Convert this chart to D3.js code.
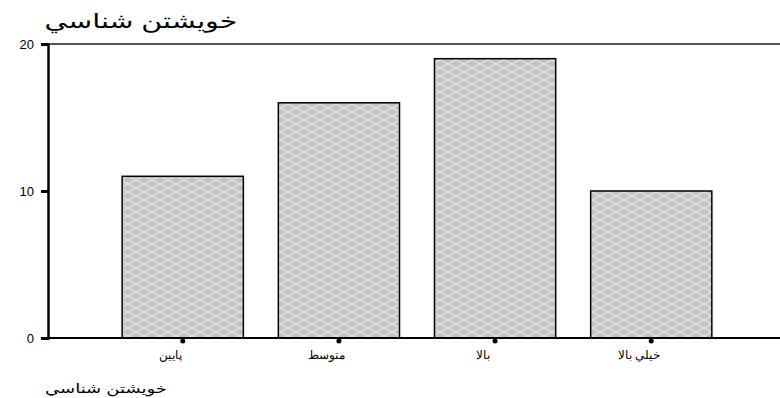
<!DOCTYPE html>
<html>
<head>
<meta charset="utf-8">
<script src="https://cdn.jsdelivr.net/npm/d3@7"></script>
<style>
  body { margin: 0; background: #fff; }
  svg { display: block; font-family: "Liberation Sans", Arial, "DejaVu Sans", sans-serif; }
</style>
</head>
<body>
<div id="chart"></div>
<script>
// data
const categories = ["پايين", "متوسط", "بالا", "خيلي بالا"];
const counts = [11, 16, 19, 10];
const yTicks = [0, 10, 20];
const titleText = "خويشتن شناسي";
const xTitleText = "خويشتن شناسي";

const width = 780;
const height = 398;
const margin = { top: 44, right: 0, bottom: 60, left: 48 };

const svg = d3.select("#chart")
    .append("svg")
    .attr("width", width)
    .attr("height", height);

// crosshatch fill used for the bars
const defs = svg.append("defs");
const pat = defs.append("pattern")
    .attr("id", "hatch")
    .attr("patternUnits", "userSpaceOnUse")
    .attr("width", 16)
    .attr("height", 8);
pat.append("rect").attr("width", 16).attr("height", 8).attr("fill", "#c4c4c4");
pat.append("path")
    .attr("d", "M0,0 L16,8 M0,8 L16,0")
    .attr("stroke", "#ececec")
    .attr("stroke-width", 1.1)
    .attr("fill", "none");

const x = d3.scaleBand()
    .domain(categories)
    .range([margin.left, 786])
    .paddingInner(0.224)
    .paddingOuter(0.475);

const y = d3.scaleLinear()
    .domain([0, 20])
    .range([height - margin.bottom, margin.top]);

// frame: top line runs to the right edge
svg.append("line")
    .attr("x1", margin.left).attr("x2", width)
    .attr("y1", y(20)).attr("y2", y(20))
    .attr("stroke", "#555").attr("stroke-width", 2);

// bars
svg.selectAll("rect.bar")
    .data(counts)
    .enter().append("rect")
    .attr("class", "bar")
    .attr("x", (d, i) => x(categories[i]))
    .attr("y", d => y(d))
    .attr("width", x.bandwidth())
    .attr("height", d => y(0) - y(d))
    .attr("fill", "url(#hatch)")
    .attr("stroke", "#000")
    .attr("stroke-width", 1.5);

svg.append("line")
    .attr("x1", margin.left).attr("x2", width)
    .attr("y1", y(0)).attr("y2", y(0))
    .attr("stroke", "#000").attr("stroke-width", 2);

// y axis
const yAxis = svg.append("g")
    .attr("transform", `translate(${margin.left},0)`)
    .call(d3.axisLeft(y).tickValues(yTicks).tickSize(7).tickPadding(7).tickFormat(d3.format("d")));
yAxis.select(".domain").attr("stroke", "#000").attr("stroke-width", 2.5);
yAxis.selectAll(".tick line").attr("stroke", "#000").attr("stroke-width", 3);
yAxis.selectAll(".tick text").style("font-size", "13px").attr("fill", "#000");

// x axis: dot markers under each bar and rtl labels
const xAxis = svg.append("g")
    .attr("transform", `translate(0,${y(0)})`)
    .call(d3.axisBottom(x).tickSize(0).tickPadding(12));
xAxis.select(".domain").remove();
xAxis.selectAll(".tick")
    .append("circle")
    .attr("cx", 0).attr("cy", 3).attr("r", 2.5)
    .attr("fill", "#000");
xAxis.selectAll(".tick text")
    .style("font-size", "12px")
    .attr("fill", "#000")
    .attr("dx", -12)
    .attr("direction", "rtl");

// titles
svg.append("text")
    .attr("x", 141)
    .attr("y", 28)
    .attr("text-anchor", "middle")
    .style("font-size", "20px")
    .attr("textLength", 193)
    .attr("lengthAdjust", "spacingAndGlyphs")
    .attr("direction", "rtl")
    .text(titleText);

svg.append("text")
    .attr("x", 106)
    .attr("y", 393)
    .attr("text-anchor", "middle")
    .style("font-size", "13px")
    .attr("textLength", 122)
    .attr("lengthAdjust", "spacingAndGlyphs")
    .attr("direction", "rtl")
    .text(xTitleText);
</script>
</body>
</html>
